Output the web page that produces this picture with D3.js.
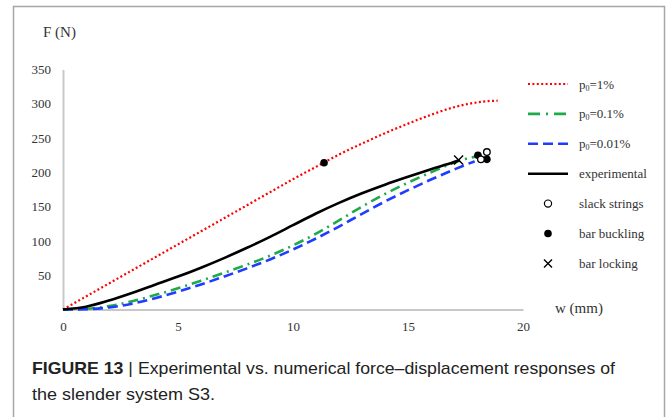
<!DOCTYPE html>
<html>
<head>
<meta charset="utf-8">
<script src="https://cdn.jsdelivr.net/npm/d3@7"></script>
<style>
  html, body { margin: 0; padding: 0; background: #fff; }
  svg { display: block; }
</style>
</head>
<body>
<svg id="chart" width="667" height="417"></svg>
<script>
// ---- data (w in mm, F in N) ----
const xTicks = [0, 5, 10, 15, 20];
const yTicks = [50, 100, 150, 200, 250, 300, 350];

const p1W = [0, 1, 2, 3, 4, 5, 6, 7, 8, 9, 10, 11, 12, 13, 14, 15, 16, 17, 17.5, 18, 18.5, 18.9];
const p1F = [0, 19, 38, 57, 76, 95, 114, 133, 152, 171, 190, 208, 226, 242, 257, 271, 284, 295, 299, 302, 304, 304.5];

const p01W = [0, 1, 2, 3, 4, 5, 6, 7, 8, 9, 10, 11, 12, 13, 14, 15, 16, 17, 17.5, 18, 18.7];
const p01F = [0, 1, 5, 12, 21, 31, 42, 53.5, 65.5, 78.5, 93.5, 110.5, 130, 150, 168.5, 185, 200, 214, 219.5, 223.5, 228];

const p001W = [0, 1, 2, 3, 4, 5, 6, 7, 8, 9, 10, 11, 12, 13, 14, 15, 16, 17, 17.5, 17.9];
const p001F = [0, 0.5, 3, 8.5, 16.5, 26, 36.5, 48, 60, 73, 87.5, 103.5, 121, 139.5, 157.5, 174, 189.5, 204, 211, 216];

const expW = [0, 1, 2, 3, 4, 5, 6, 7, 8, 9, 10, 11, 12, 13, 14, 15, 16, 17, 17.25];
const expF = [0, 4, 13, 24, 36, 48, 61, 75, 90, 106, 123, 140, 155.5, 169.5, 182, 193.5, 204.5, 215, 218];

const slackStrings = [[18.43, 229.6], [18.17, 219]];
const barBuckling = [[11.35, 214], [18.04, 225], [18.43, 219]];
const barLocking = [[17.2, 218]];

const legendLabels = ["p0=1%", "p0=0.1%", "p0=0.01%", "experimental", "slack strings", "bar buckling", "bar locking"];

// ---- drawing ----
const svg = d3.select("#chart");
const serif = "'Liberation Serif', 'Times New Roman', serif";

svg.append("rect").attr("x", 0).attr("y", 0).attr("width", 667).attr("height", 417).attr("fill", "#fff");
// outer frame (open at the bottom)
svg.append("path")
  .attr("d", "M13.5,430 V6.5 H664.5 V430")
  .attr("fill", "none").attr("stroke", "#a6a6a6").attr("stroke-width", 1.5);

const x = d3.scaleLinear().domain([0, 20]).range([63, 523]);
const y = d3.scaleLinear().domain([0, 350]).range([309.5, 69.5]);

// axes
const xAxis = svg.append("g").attr("transform", `translate(0,${y(0)})`)
  .call(d3.axisBottom(x).tickValues(xTicks).tickSize(0).tickPadding(12).tickFormat(d3.format("d")));
const yAxis = svg.append("g").attr("transform", `translate(${x(0)},0)`)
  .call(d3.axisLeft(y).tickValues(yTicks).tickSize(0).tickPadding(12).tickFormat(d3.format("d")));
[xAxis, yAxis].forEach(g => {
  g.select(".domain").attr("stroke", "#c8c8c8").attr("stroke-width", 2);
  g.selectAll("text").attr("font-family", serif).attr("font-size", 13).attr("fill", "#333");
});

// axis titles
svg.append("text").attr("x", 43).attr("y", 37).attr("font-family", serif).attr("font-size", 15)
  .attr("fill", "#333").text("F (N)");
svg.append("text").attr("x", 555).attr("y", 313).attr("font-family", serif).attr("font-size", 15)
  .attr("fill", "#333").text("w (mm)");

const line = d3.line().x(d => x(d[0])).y(d => y(d[1])).curve(d3.curveMonotoneX);
const zip = (a, b) => a.map((v, i) => [v, b[i]]);

const styles = {
  red:   { color: "#ff0000", width: 2.2, dash: "2 2.4" },
  green: { color: "#1faa4a", width: 2.6, dash: "10 5 2 5" },
  blue:  { color: "#1f3cff", width: 2.6, dash: "10 5" },
  black: { color: "#000000", width: 2.6, dash: null }
};

function drawSeries(data, s) {
  svg.append("path").datum(data).attr("d", line)
    .attr("fill", "none").attr("stroke", s.color).attr("stroke-width", s.width)
    .attr("stroke-dasharray", s.dash);
}
drawSeries(zip(p1W, p1F), styles.red);
drawSeries(zip(p01W, p01F), styles.green);
drawSeries(zip(p001W, p001F), styles.blue);
drawSeries(zip(expW, expF), styles.black);

// markers
function cross(g, cx, cy, r) {
  g.append("path").attr("d", `M${cx - r},${cy - r}L${cx + r},${cy + r}M${cx - r},${cy + r}L${cx + r},${cy - r}`)
    .attr("stroke", "#000").attr("stroke-width", 1.4).attr("fill", "none");
}
barBuckling.forEach(d => svg.append("circle").attr("cx", x(d[0])).attr("cy", y(d[1])).attr("r", 3.8).attr("fill", "#000"));
slackStrings.forEach(d => svg.append("circle").attr("cx", x(d[0])).attr("cy", y(d[1])).attr("r", 3.3)
  .attr("fill", "#fff").attr("stroke", "#000").attr("stroke-width", 1.3));
barLocking.forEach(d => cross(svg, x(d[0]), y(d[1]), 4.5));

// legend
const leg = svg.append("g");
const rowY = i => 84 + i * 29.9;
const lx0 = 528, lx1 = 568, mx = 548, tx = 579;
const lineStyles = [styles.red, styles.green, styles.blue, styles.black];
lineStyles.forEach((s, i) => {
  leg.append("line").attr("x1", lx0).attr("x2", lx1).attr("y1", rowY(i)).attr("y2", rowY(i))
    .attr("stroke", s.color).attr("stroke-width", s.width)
    .attr("stroke-dasharray", i === 1 ? "12 6 2 6" : s.dash);
});
leg.append("circle").attr("cx", mx).attr("cy", rowY(4)).attr("r", 3.6)
  .attr("fill", "#fff").attr("stroke", "#000").attr("stroke-width", 1.2);
leg.append("circle").attr("cx", mx).attr("cy", rowY(5)).attr("r", 3.8).attr("fill", "#000");
cross(leg, mx, rowY(6), 4);

legendLabels.forEach((lab, i) => {
  const t = leg.append("text").attr("x", tx).attr("y", rowY(i) + 4.5)
    .attr("font-family", serif).attr("font-size", 13).attr("fill", "#333");
  if (lab.startsWith("p0")) {
    t.append("tspan").text("p");
    t.append("tspan").attr("font-size", 8).attr("dy", 2).text("0");
    t.append("tspan").attr("dy", -2).text(lab.slice(2));
  } else {
    t.text(lab);
  }
});

// caption
const sans = "'Liberation Sans Narrow', 'Liberation Sans', Arial, sans-serif";
const cap1 = svg.append("text").attr("x", 32).attr("y", 374).attr("font-family", sans)
  .attr("font-size", 17).attr("fill", "#222");
cap1.append("tspan").attr("font-weight", "bold").text("FIGURE 13");
cap1.append("tspan").text(" | Experimental vs. numerical force\u2013displacement responses of");
cap1.attr("textLength", 583).attr("lengthAdjust", "spacingAndGlyphs");
svg.append("text").attr("x", 32).attr("y", 400).attr("font-family", sans)
  .attr("font-size", 17).attr("fill", "#222").text("the slender system S3.")
  .attr("textLength", 183).attr("lengthAdjust", "spacingAndGlyphs");
</script>
</body>
</html>
